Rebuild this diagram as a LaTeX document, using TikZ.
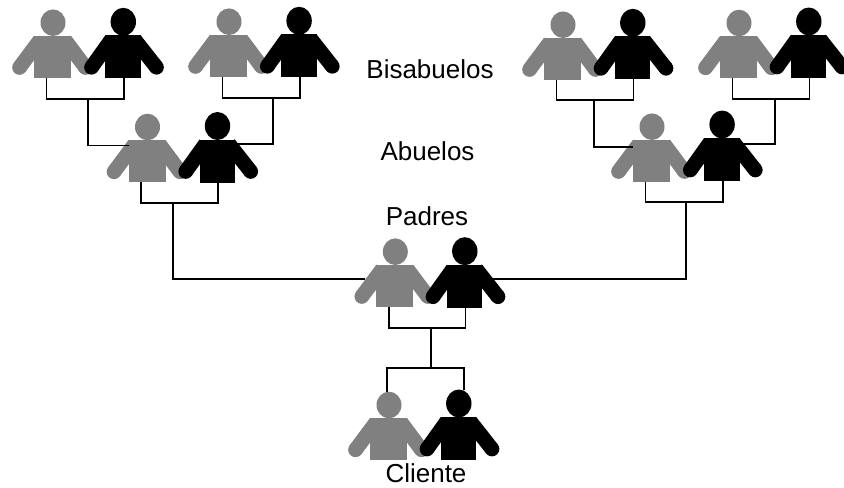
\documentclass[tikz,border=0pt]{standalone}
\usepackage{fontspec}
\setmainfont{Liberation Sans}
\definecolor{gris}{HTML}{808080}

\tikzset{
    enlace/.style={line width=0.85pt},
    brazo/.style={line width=7.35pt},
    rotulo/.style={anchor=base,font=\fontsize{13}{15}\selectfont},
    pics/gris/.style={code={
        \fill[gris] (0.5,-13) ellipse (12.5 and 13.3);
        \draw[gris,brazo] (-12.5,4.3) -- (-33,31.8);
        \draw[gris,brazo] (12.5,4.3) -- (33,31.8);
        \fill[gris] (-33,31.8) circle (7.35);
        \fill[gris] (33,31.8) circle (7.35);
        \fill[gris] (-18.5,0) rectangle (18.5,42);
        \coordinate (-pie) at (-6,42);
    }},
    pics/negro/.style={code={
        \fill (0.3,-13.5) ellipse (12.7 and 14);
        \draw[brazo] (-11.7,4.3) -- (-31.5,32);
        \draw[brazo] (11.7,4.3) -- (33.5,32);
        \fill (-31.5,32) circle (7.35);
        \fill (33.5,32) circle (7.35);
        \fill (-17.7,0) rectangle (17.7,43);
        \coordinate (-pie) at (1,43);
    }}
}

\begin{document}
\begin{tikzpicture}[x=0.5pt,y=-0.5pt]
    \useasboundingbox (0,0) rectangle (844,487);

    % bisabuelos
    \pic (bg1) at (52.5,35.7) {gris};
    \pic (bn1) at (123,35.3) {negro};
    \pic (bg2) at (228.5,34.7) {gris};
    \pic (bn2) at (298.8,34.3) {negro};
    \pic (bg3) at (562.5,37.7) {gris};
    \pic (bn3) at (632.5,36.3) {negro};
    \pic (bg4) at (738.5,36) {gris};
    \pic (bn4) at (808.5,35) {negro};

    % abuelos
    \pic (ag1) at (147,140) {gris};
    \pic (an1) at (217.2,139.5) {negro};
    \pic (ag2) at (651.5,139.7) {gris};
    \pic (an2) at (721.8,138) {negro};

    % padres y cliente
    \pic (pg) at (394.8,264.7) {gris};
    \pic (pn) at (464.5,264.7) {negro};
    \pic (cg) at (388.5,418) {gris};
    \pic (cn) at (458.5,417) {negro};

    \node[rotulo] (bisabuelos) at (430,78.3) {Bisabuelos};
    \node[rotulo] (abuelos) at (427.5,160) {Abuelos};
    \node[rotulo] (padres) at (427,225.3) {Padres};
    \node[rotulo] (cliente) at (426,482.7) {Cliente};

    % puntos de union
    \coordinate (u1) at (88.3,99);
    \coordinate (u2) at (272.7,97.7);
    \coordinate (u3) at (593.7,100);
    \coordinate (u4) at (774.7,99);
    \coordinate (u5) at (173,202.7);
    \coordinate (u6) at (686.3,202);
    \coordinate (u7) at (431,328.3);
    \coordinate (u8) at (431,367.7);

    % llegadas
    \coordinate (l1) at (128.7,145.5);
    \coordinate (l2) at (237,144);
    \coordinate (l3) at (633,147.3);
    \coordinate (l4) at (742,144);
    \coordinate (l5) at (365,278.7);
    \coordinate (l6) at (492.7,278.7);
    \coordinate (c1) at (386.7,392);
    \coordinate (c2) at (463.7,390);

    \draw[enlace] (bg1-pie) |- (u1) -| (bn1-pie);
    \draw[enlace] (bg2-pie) |- (u2) -| (bn2-pie);
    \draw[enlace] (bg3-pie) |- (u3) -| (bn3-pie);
    \draw[enlace] (bg4-pie) |- (u4) -| (bn4-pie);
    \draw[enlace] (ag1-pie) |- (u5) -| (an1-pie);
    \draw[enlace] (ag2-pie) |- (u6) -| (an2-pie);
    \draw[enlace] (pg-pie) |- (u7) -| (pn-pie);

    \draw[enlace] (u1) |- (l1);
    \draw[enlace] (u2) |- (l2);
    \draw[enlace] (u3) |- (l3);
    \draw[enlace] (u4) |- (l4);
    \draw[enlace] (u5) |- (l5);
    \draw[enlace] (u6) |- (l6);
    \draw[enlace] (u7) -- (u8);
    \draw[enlace] (c1) |- (u8) -| (c2);
\end{tikzpicture}
\end{document}
